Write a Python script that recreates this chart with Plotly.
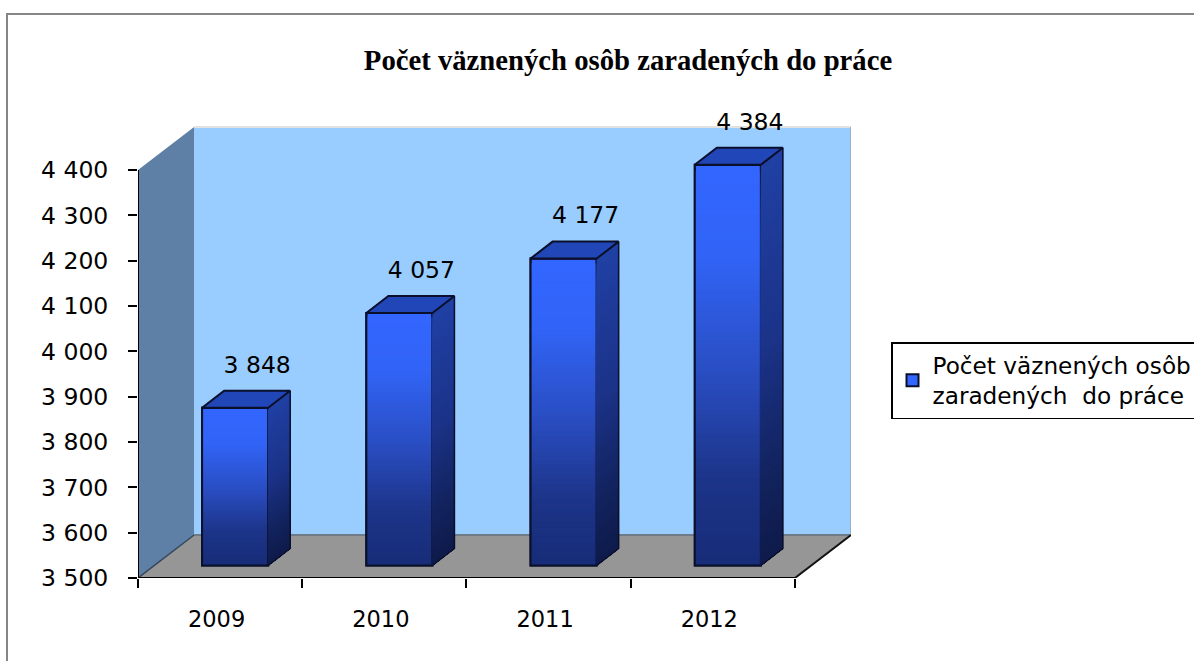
import plotly.graph_objects as go

# --- data ---
years = ["2009", "2010", "2011", "2012"]
values = [3848, 4057, 4177, 4384]
value_labels = ["3 848", "4 057", "4 177", "4 384"]
y_ticks = [3500, 3600, 3700, 3800, 3900, 4000, 4100, 4200, 4300, 4400]
y_tick_labels = ["3 500", "3 600", "3 700", "3 800", "3 900", "4 000", "4 100", "4 200", "4 300", "4 400"]
series_name = "Počet väznených osôb<br>zaradených  do práce"
title_text = "Počet väznených osôb zaradených do práce"

# --- styling / pseudo-3D geometry, all in axis units ---
W, H = 1194, 661
PX_X, PX_Y = 164.0, 0.4533          # pixels per axis unit
X0, Y0 = 0.5, 3500
X_AX_END, Y_AX_END = 4.5, 4400
WALL_DX, WALL_DY = 56 / PX_X, 43 / PX_Y
BAR_DX, BAR_DY = 22 / PX_X, 17 / PX_Y
SHIFT_X, SHIFT_Y = 15 / PX_X, 12.5 / PX_Y
BAR_W = 66 / PX_X
LABEL_DX, LABEL_DY = 22 / PX_X, 118
TICK_SHIFT = 3.5 / PX_X
PLOT_TOP_PX = 100                   # room above the wall for the last value label
FONT = "DejaVu Sans"
N_BANDS = 64


def hx(c):
    return tuple(int(c[i:i + 2], 16) for i in (1, 3, 5))


def ramp(stops, t):
    for (a, ca), (b, cb) in zip(stops, stops[1:]):
        if a <= t <= b:
            f = (t - a) / (b - a)
            p, q = hx(ca), hx(cb)
            return "rgb(%d,%d,%d)" % tuple(round(u + (v - u) * f) for u, v in zip(p, q))
    return stops[-1][1]


FRONT = [(0, "#3366ff"), (0.22, "#3163f6"), (0.5, "#2a4fc4"), (0.78, "#1c3488"), (1, "#172c78")]
SIDE = [(0, "#2040a4"), (0.45, "#1b3388"), (0.8, "#12225c"), (1, "#0e1a4a")]
TOP_FACE = "#2146b8"
EDGE = "#0a0f2a"

x_pos = [i + 1 for i in range(len(years))]
bar_x = [x + SHIFT_X for x in x_pos]
bar_base = Y0 + SHIFT_Y
bar_h = [v - Y0 for v in values]

fig = go.Figure()

# side-face gradient (drawn from the values)
for k in range(N_BANDS):
    t0 = k / N_BANDS
    xs, ys = [], []
    for xc, h in zip(bar_x, bar_h):
        xr = xc + BAR_W / 2
        yt = bar_base + h * (1 - t0)
        yb = bar_base
        xs += [xr, xr + BAR_DX, xr + BAR_DX, xr, xr, None]
        ys += [yt, yt + BAR_DY, yb + BAR_DY, yb, yt, None]
    fig.add_trace(go.Scatter(x=xs, y=ys, mode="lines", fill="toself", line=dict(width=0),
                             fillcolor=ramp(SIDE, t0), showlegend=False, hoverinfo="skip"))

# top faces and outlines of the side faces
xs, ys = [], []
for xc, h in zip(bar_x, bar_h):
    xl, xr = xc - BAR_W / 2, xc + BAR_W / 2
    yt = bar_base + h
    xs += [xl, xl + BAR_DX, xr + BAR_DX, xr, xl, None]
    ys += [yt, yt + BAR_DY, yt + BAR_DY, yt, yt, None]
fig.add_trace(go.Scatter(x=xs, y=ys, mode="lines", fill="toself", fillcolor=TOP_FACE,
                         line=dict(color=EDGE, width=2), showlegend=False, hoverinfo="skip"))
xs, ys = [], []
for xc, h in zip(bar_x, bar_h):
    xr = xc + BAR_W / 2
    yt = bar_base + h
    xs += [xr + BAR_DX, xr + BAR_DX, xr, None]
    ys += [yt + BAR_DY, bar_base + BAR_DY, bar_base, None]
fig.add_trace(go.Scatter(x=xs, y=ys, mode="lines", line=dict(color=EDGE, width=1.5),
                         showlegend=False, hoverinfo="skip"))

# front faces: base bar (carries the legend entry) + nested gradient bars
fig.add_trace(go.Bar(x=bar_x, y=bar_h, base=[bar_base] * 4, width=BAR_W, name=series_name,
                     marker=dict(color="#3366ff", line=dict(color=EDGE, width=2)),
                     hoverinfo="skip"))
bx, by, bc = [], [], []
for k in range(1, N_BANDS):
    t0 = k / N_BANDS
    for xc, h in zip(bar_x, bar_h):
        bx.append(xc)
        by.append(h * (1 - t0))
        bc.append(ramp(FRONT, t0))
fig.add_trace(go.Bar(x=bx, y=by, base=[bar_base] * len(bx), width=BAR_W, showlegend=False,
                     marker=dict(color=bc, line=dict(width=0)), hoverinfo="skip"))
fig.add_trace(go.Bar(x=bar_x, y=bar_h, base=[bar_base] * 4, width=BAR_W, showlegend=False,
                     marker=dict(color="rgba(0,0,0,0)", line=dict(color=EDGE, width=2)),
                     hoverinfo="skip"))

# value labels
fig.add_trace(go.Scatter(x=[x + LABEL_DX for x in bar_x], y=[v + LABEL_DY for v in values],
                         mode="text", text=value_labels, textposition="middle center",
                         textfont=dict(family=FONT, size=23.5, color="black"),
                         cliponaxis=False, showlegend=False, hoverinfo="skip"))

# axis lines
fig.add_trace(go.Scatter(x=[X0, X0, X_AX_END], y=[Y_AX_END, Y0, Y0], mode="lines",
                         line=dict(color="black", width=2), cliponaxis=False,
                         showlegend=False, hoverinfo="skip"))

wx, wy = X0 + WALL_DX, Y0 + WALL_DY
wx2 = X_AX_END + WALL_DX
wy2 = Y_AX_END + WALL_DY


def poly(pts):
    return "M" + "L".join(f"{a},{b}" for a, b in pts) + "Z"


shapes = [
    dict(type="path", layer="below", xref="x", yref="y", fillcolor="#99ccff", line=dict(width=0),
         path=poly([(wx, wy), (wx2, wy), (wx2, wy2), (wx, wy2)])),
    dict(type="path", layer="below", xref="x", yref="y", fillcolor="#5f80a6", line=dict(width=0),
         path=poly([(X0, Y0), (wx, wy), (wx, wy2), (X0, Y_AX_END)])),
    dict(type="path", layer="below", xref="x", yref="y", fillcolor="#969696", line=dict(width=0),
         path=poly([(X0, Y0), (X_AX_END, Y0), (wx2, wy), (wx, wy)])),
    dict(type="line", layer="below", xref="x", yref="y", x0=wx, x1=wx2, y0=wy, y1=wy,
         line=dict(color="#6f7c88", width=2)),
    dict(type="line", layer="below", xref="x", yref="y", x0=wx, x1=wx2, y0=wy2, y1=wy2,
         line=dict(color="#e2e2e2", width=2)),
    dict(type="line", layer="below", xref="x", yref="y", x0=wx2, x1=wx2, y0=wy, y1=wy2,
         line=dict(color="#9aa6b2", width=1.5)),
    dict(type="line", layer="below", xref="x", yref="y", x0=X_AX_END, x1=wx2, y0=Y0, y1=wy,
         line=dict(color="#111111", width=2)),
    dict(type="line", layer="below", xref="x", yref="y", x0=X0, x1=wx, y0=Y0, y1=wy,
         line=dict(color="#33475c", width=1.5)),
    dict(type="rect", layer="below", xref="paper", yref="paper",
         x0=7 / W, x1=1.02, y0=-0.02, y1=1 - 14 / H, line=dict(color="#868686", width=2)),
]

fig.update_layout(
    width=W, height=H, margin=dict(l=0, r=0, t=0, b=0, autoexpand=False),
    paper_bgcolor="white", plot_bgcolor="rgba(0,0,0,0)", barmode="overlay",
    font=dict(family=FONT, size=23, color="black"),
    title=dict(text=title_text, x=628 / W, xanchor="center", y=1 - 60 / H, yanchor="middle",
               xref="paper", yref="paper",
               font=dict(family="Liberation Serif", size=28.7, color="black", weight="bold")),
    xaxis=dict(domain=[138 / W, 851 / W], range=[X0, X_AX_END + WALL_DX], showgrid=False,
               zeroline=False, showline=False, tickmode="array",
               tickvals=[x - TICK_SHIFT for x in x_pos], ticktext=years,
               ticks="", ticklabelstandoff=25, tickfont=dict(size=22.5),
               minor=dict(tickmode="array", tickvals=[0.5, 1.5, 2.5, 3.5, 4.5], ticks="outside",
                          ticklen=9, tickwidth=2, tickcolor="black", showgrid=False)),
    yaxis=dict(domain=[(H - 578) / H, (H - PLOT_TOP_PX) / H],
               range=[Y0, Y_AX_END + (170 - PLOT_TOP_PX) / PX_Y], showgrid=False,
               zeroline=False, showline=False, tickmode="array", tickvals=y_ticks,
               ticktext=y_tick_labels, ticks="outside", ticklen=9, tickwidth=2, tickcolor="black",
               ticklabelstandoff=15, tickfont=dict(size=23.5)),
    shapes=shapes,
    showlegend=True,
    legend=dict(x=891 / W, xanchor="left", y=1 - 342 / H, yanchor="top", bgcolor="white",
                bordercolor="black", borderwidth=1.5, font=dict(family=FONT, size=23.2, color="black"),
                entrywidth=271, entrywidthmode="pixels", tracegroupgap=0),
)

fig.write_html("out.html", config={"displayModeBar": False},
               post_script="document.body.style.margin='0';document.body.style.overflow='hidden';")
